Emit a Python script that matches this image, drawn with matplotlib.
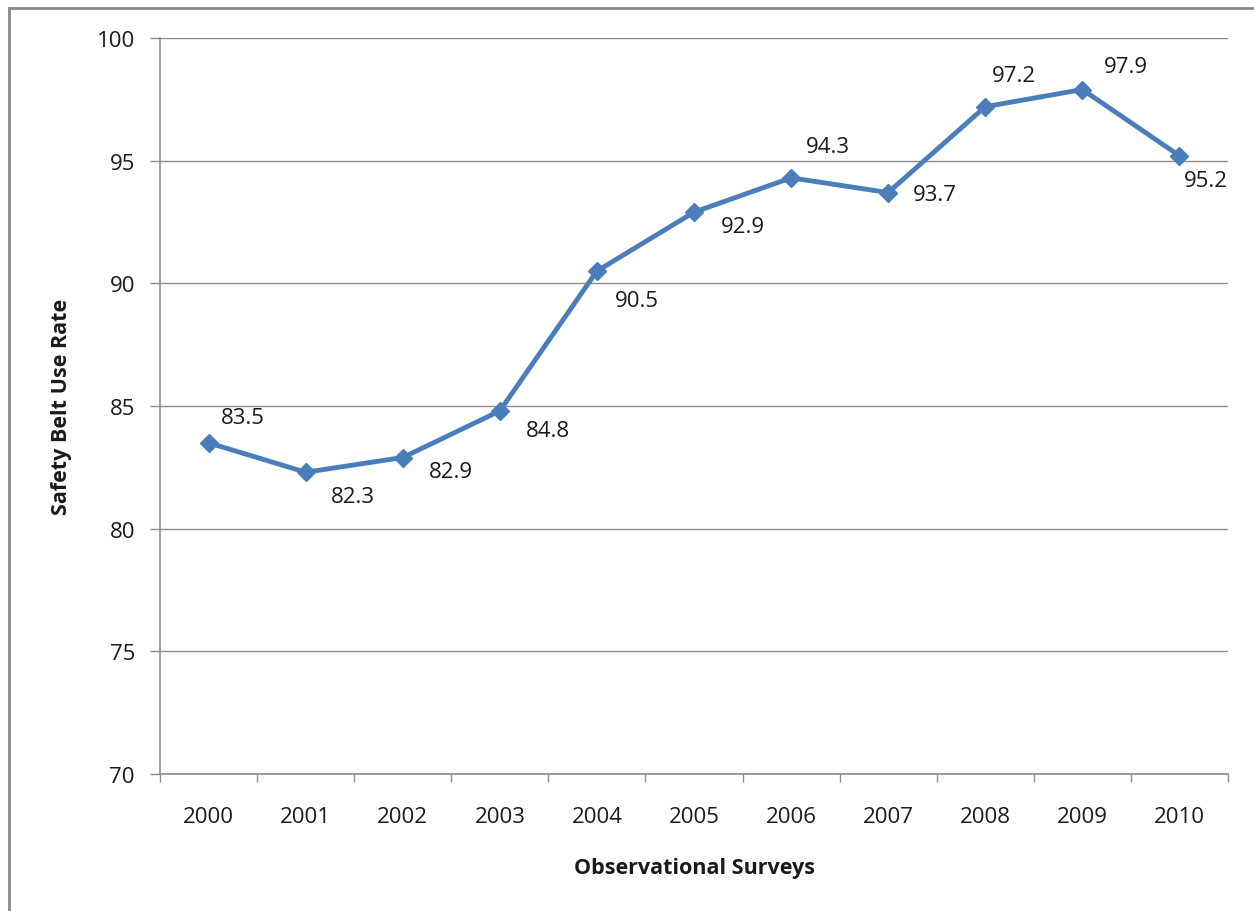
import matplotlib.pyplot as plt
from matplotlib.lines import Line2D

# data
years = ['2000', '2001', '2002', '2003', '2004', '2005',
         '2006', '2007', '2008', '2009', '2010']
belt_rate = [83.5, 82.3, 82.9, 84.8, 90.5, 92.9, 94.3, 93.7, 97.2, 97.9, 95.2]
y_ticks = [70, 75, 80, 85, 90, 95, 100]

# where each data label sits relative to its point (pixels)
label_offsets = [(12, 25), (25, -24), (26, -14), (26, -20), (18, -29), (27, -14),
                 (15, 31), (25, -2), (7, 31), (22, 23), (4, -25)]

plt.rcParams['font.family'] = ['Open Sans', 'DejaVu Sans']

fig = plt.figure(figsize=(12.54, 9.12), dpi=100)
ax = fig.add_axes([160 / 1254, 1 - 775 / 912, (1228 - 160) / 1254, (775 - 39) / 912])

line_color = '#4A7EBB'
grid_color = '#8C8C8C'
text_color = '#1a1a1a'
x = list(range(len(years)))

ax.plot(x, belt_rate, color=line_color, linewidth=3.5, marker='D',
        markersize=9.5, markerfacecolor=line_color, markeredgecolor=line_color, zorder=3)

for i, v in enumerate(belt_rate):
    ax.annotate(f'{v:.1f}', (x[i], v), xytext=label_offsets[i], textcoords='offset pixels',
                ha='left', va='center', fontsize=16, color=text_color)

ax.set_xlim(-0.5, len(years) - 0.5)
ax.set_ylim(70, 100)
ax.set_yticks(y_ticks)
ax.yaxis.grid(True, color=grid_color, linewidth=1)
ax.set_axisbelow(True)

ax.set_xticks(x)
ax.set_xticklabels(years)
ax.set_xticks([i - 0.5 for i in range(len(years) + 1)], minor=True)
ax.tick_params(axis='x', which='major', length=0, pad=23, labelsize=16, labelcolor=text_color)
ax.tick_params(axis='x', which='minor', length=6, width=1, color=grid_color, direction='out')
ax.tick_params(axis='y', length=7, width=1, color=grid_color, pad=11, labelsize=16,
               labelcolor=text_color)

for side in ['top', 'right']:
    ax.spines[side].set_visible(False)
for side in ['left', 'bottom']:
    ax.spines[side].set_color(grid_color)
    ax.spines[side].set_linewidth(1.2)

ax.set_xlabel('Observational Surveys', fontsize=15.5, fontweight='bold', labelpad=22,
              color=text_color)
ax.set_ylabel('Safety Belt Use Rate', fontsize=15.5, fontweight='bold', labelpad=18,
              color=text_color)

# outer frame of the chart (only left and top edges visible in the crop)
fig.add_artist(Line2D([8.5 / 1254, 8.5 / 1254], [0, 1 - 9 / 912],
                      transform=fig.transFigure, color='#8A8A8A', linewidth=2))
fig.add_artist(Line2D([8.5 / 1254, 1], [1 - 9 / 912, 1 - 9 / 912],
                      transform=fig.transFigure, color='#8A8A8A', linewidth=2))

fig.savefig('out.png', dpi=100)
